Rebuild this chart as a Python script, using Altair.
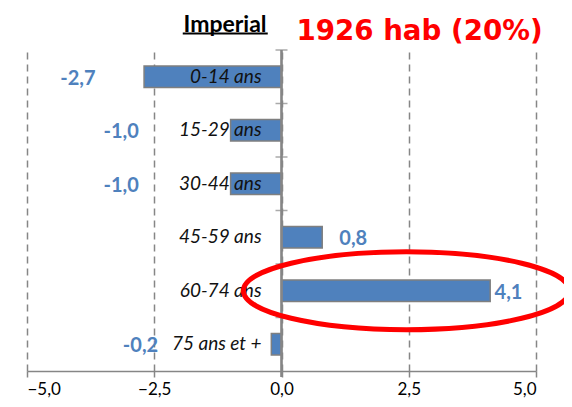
import altair as alt
import pandas as pd

# ---- data ----
categories = ["0-14 ans", "15-29 ans", "30-44 ans", "45-59 ans", "60-74 ans", "75 ans et +"]
values = [-2.7, -1.0, -1.0, 0.8, 4.1, -0.2]
# where each value label sits (centre, in axis units), as placed on the reference
label_anchor = [-4.0, -3.15, -3.15, 1.41, 4.46, -2.77]
tick_values = [-5, -2.5, 0, 2.5, 5]
title_text = "Imperial"
note_text = "1926 hab (20%)"
highlight = "60-74 ans"

df = pd.DataFrame({
    "cat": categories,
    "val": values,
    "lab_x": label_anchor,
    "lab": [f"{v:.1f}".replace(".", ",") for v in values],
})

GRAY = "#868686"
BLUE = "#4F81BD"
W, H = 509, 321
STEP = H / len(categories)

xscale = alt.Scale(domain=[-5, 5], nice=False, zero=False)
yscale = alt.Scale(domain=categories, paddingInner=0.6, paddingOuter=0.3)

x_axis = alt.Axis(
    values=tick_values, grid=True, gridDash=[7, 5], gridColor=GRAY, gridWidth=1.5,
    domainColor=GRAY, domainWidth=1.5, tickColor=GRAY, tickWidth=1.5, tickSize=6,
    labelFont="Lato", labelFontSize=17, labelColor="#000000", labelPadding=4,
    labelExpr="replace(format(datum.value, '.1f'), '.', ',')", title=None,
)

base = alt.Chart(df)

bars = base.mark_bar(fill=BLUE, stroke="#7F7F7F", strokeWidth=1.5).encode(
    x=alt.X("val:Q", scale=xscale, axis=x_axis),
    y=alt.Y("cat:N", scale=yscale, sort=categories, axis=None),
)

zero_line = base.mark_rule(color=GRAY, strokeWidth=1.5).encode(
    x=alt.datum(0), y=alt.value(0), y2=alt.value(H + 6)
)

band_ticks = base.mark_tick(orient="horizontal", color=GRAY, thickness=1.5, size=12).encode(
    x=alt.datum(0),
    y=alt.Y("cat:N", scale=yscale, sort=categories, axis=None),
    yOffset=alt.value(-0.3 * STEP),
)

cat_labels = base.mark_text(
    align="right", baseline="middle", dx=-20, font="Lato", fontStyle="italic",
    fontSize=19, color="#111111",
).encode(
    x=alt.datum(0),
    y=alt.Y("cat:N", scale=yscale, sort=categories, axis=None),
    text="cat:N",
)

val_labels = base.mark_text(
    align="center", baseline="middle", dy=2, font="Lato", fontWeight="bold",
    fontSize=20, color=BLUE,
).encode(
    x=alt.X("lab_x:Q", scale=xscale),
    y=alt.Y("cat:N", scale=yscale, sort=categories, axis=None),
    text="lab:N",
)

t_df = pd.DataFrame({"t": [title_text]})
title = alt.Chart(t_df).mark_text(
    align="center", baseline="alphabetic", font="Lato", fontWeight="bold",
    fontSize=23, color="#000000",
).encode(x=alt.datum(-1.109), y=alt.value(-18.3), text="t:N")

underline = alt.Chart(t_df).mark_rule(color="#000000", strokeWidth=2).encode(
    x=alt.datum(-1.94), x2=alt.datum(-0.27), y=alt.value(-16.5)
)

n_df = pd.DataFrame({"t": [note_text]})
note = alt.Chart(n_df).mark_text(
    align="left", baseline="alphabetic", font="DejaVu Sans", fontWeight="bold",
    fontSize=27.7, color="#FF0000",
).encode(x=alt.datum(0.294), y=alt.value(-10), text="t:N")

e_df = pd.DataFrame({"cat": [highlight]})
ellipse = alt.Chart(e_df).mark_point(
    shape="M -1 0 A 1 0.239 0 1 0 1 0 A 1 0.239 0 1 0 -1 0 Z",
    filled=False, stroke="#FF0000", strokeWidth=5, opacity=1, size=326 * 326,
).encode(
    x=alt.datum(2.454),
    y=alt.Y("cat:N", scale=yscale, sort=categories, axis=None),
)

chart = alt.layer(
    bars, zero_line, band_ticks, cat_labels, val_labels, title, underline, note, ellipse
).properties(
    width=W, height=H,
    autosize=alt.AutoSizeParams(type="none"),
    padding={"left": 19, "top": 42, "right": 28, "bottom": 28},
    background="white",
).configure_view(stroke=None)

chart.save("out.html", embed_options={"renderer": "svg", "actions": False})
